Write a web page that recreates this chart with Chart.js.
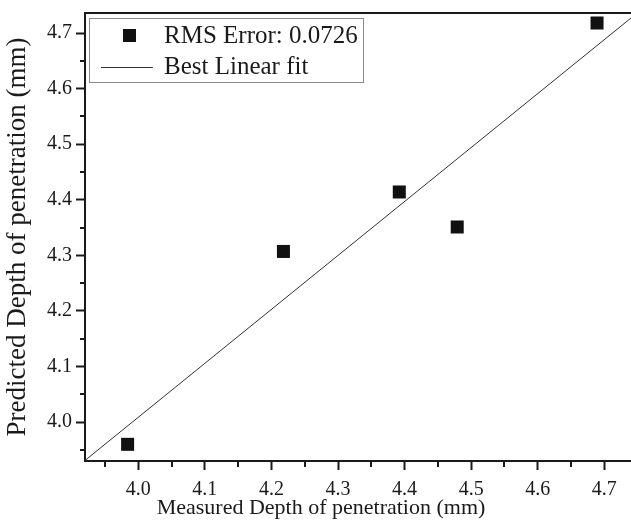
<!DOCTYPE html>
<html>
<head>
<meta charset="utf-8">
<script src="https://cdn.jsdelivr.net/npm/chart.js@4.4.1/dist/chart.umd.min.js"></script>
<style>
  html,body{margin:0;padding:0;background:#fff;}
  #wrap{width:631px;height:522px;}
</style>
</head>
<body>
<div id="wrap"><canvas id="chart" width="631" height="522"></canvas></div>
<script>
// data
const measured=[3.984,4.218,4.392,4.479,4.689];
const predicted=[3.960,4.307,4.414,4.351,4.718];
const fitX=[3.92,4.74];
const fitY=[3.931,4.727];
const xTicks=[4.0,4.1,4.2,4.3,4.4,4.5,4.6,4.7];
const yTicks=[4.0,4.1,4.2,4.3,4.4,4.5,4.6,4.7];
const xRange=[3.92,4.74];
const yRange=[3.93,4.736];
const seriesLabels=['RMS Error: 0.0726','Best Linear fit'];
const xTitle='Measured Depth of penetration (mm)';
const yTitle='Predicted Depth of penetration (mm)';

const FONT="'Liberation Serif','Times New Roman',serif";
const INK='#1a1a1a';
Chart.defaults.font.family=FONT;

// minor ticks, top frame line, x title
const framePlugin={
  id:'frame',
  afterDraw(chart){
    const {ctx,chartArea:a,scales}=chart;
    ctx.save();
    ctx.strokeStyle=INK;
    ctx.lineWidth=2;
    ctx.beginPath();
    ctx.moveTo(a.left-1,a.top);ctx.lineTo(a.right,a.top);
    ctx.stroke();
    // minor ticks
    ctx.beginPath();
    const mids=t=>t.slice(0,-1).map((v,i)=>(v+t[i+1])/2).concat([t[0]-0.05,t[t.length-1]+0.05]);
    mids(xTicks).forEach(v=>{
      if(v<xRange[0]||v>xRange[1])return;
      const x=Math.round(scales.x.getPixelForValue(v));
      ctx.moveTo(x,a.bottom);ctx.lineTo(x,a.bottom+6);
    });
    mids(yTicks).forEach(v=>{
      if(v<yRange[0]||v>yRange[1])return;
      const y=Math.round(scales.y.getPixelForValue(v));
      ctx.moveTo(a.left,y);ctx.lineTo(a.left-5,y);
    });
    ctx.stroke();
    // x axis title (sits left of plot centre in the original)
    ctx.fillStyle=INK;
    ctx.font='22px '+FONT;
    ctx.textAlign='center';
    ctx.textBaseline='middle';
    ctx.fillText(xTitle,321,508);
    ctx.restore();
  }
};

// boxed legend inside the plot
const boxLegend={
  id:'boxLegend',
  afterDraw(chart){
    const {ctx,chartArea:a}=chart;
    const ds=chart.data.datasets;
    const x0=a.left+4,y0=a.top+5,w=274,h=64;
    ctx.save();
    ctx.fillStyle='#fff';
    ctx.fillRect(x0,y0,w,h);
    ctx.strokeStyle='#8a8a8a';
    ctx.lineWidth=1;
    ctx.strokeRect(x0+0.5,y0+0.5,w,h);
    ctx.font='25px '+FONT;
    ctx.textBaseline='middle';
    ctx.fillStyle=ds[0].backgroundColor;
    ctx.fillRect(x0+34,y0+11,13,13);
    ctx.fillStyle=INK;
    ctx.fillText(ds[0].label,x0+75,y0+18);
    ctx.strokeStyle=ds[1].borderColor;
    ctx.lineWidth=1.2;
    ctx.beginPath();
    ctx.moveTo(x0+12,y0+49.5);ctx.lineTo(x0+64,y0+49.5);
    ctx.stroke();
    ctx.fillText(ds[1].label,x0+75,y0+49);
    ctx.restore();
  }
};

new Chart(document.getElementById('chart').getContext('2d'),{
  type:'scatter',
  data:{
    datasets:[
      {
        label:seriesLabels[0],
        data:measured.map((v,i)=>({x:v,y:predicted[i]})),
        pointStyle:'rect',
        pointRadius:9.2,
        backgroundColor:'#111',
        borderColor:'#111',
        borderWidth:0,
        showLine:false
      },
      {
        label:seriesLabels[1],
        data:fitX.map((v,i)=>({x:v,y:fitY[i]})),
        showLine:true,
        pointRadius:0,
        borderColor:'#333',
        borderWidth:1,
        fill:false
      }
    ]
  },
  options:{
    responsive:false,
    animation:false,
    devicePixelRatio:1,
    layout:{autoPadding:false,padding:{top:13,right:0,left:0,bottom:0}},
    plugins:{legend:{display:false},tooltip:{enabled:false}},
    scales:{
      x:{
        type:'linear',
        min:xRange[0],max:xRange[1],
        afterBuildTicks:s=>{s.ticks=xTicks.map(v=>({value:v}));},
        afterFit:s=>{s.height=61;s.paddingLeft=0;s.paddingRight=0;},
        grid:{drawOnChartArea:false,drawTicks:true,tickLength:9,tickWidth:2,tickColor:INK},
        border:{display:true,width:2,color:INK},
        ticks:{font:{family:FONT,size:20},color:INK,padding:8,maxRotation:0,callback:v=>v.toFixed(1)},
        title:{display:false}
      },
      y:{
        type:'linear',
        min:yRange[0],max:yRange[1],
        afterBuildTicks:s=>{s.ticks=yTicks.map(v=>({value:v}));},
        afterFit:s=>{s.width=85;s.paddingTop=0;s.paddingBottom=0;},
        grid:{drawOnChartArea:false,drawTicks:true,tickLength:9,tickWidth:2,tickColor:INK},
        border:{display:true,width:2,color:INK},
        ticks:{font:{family:FONT,size:20},color:INK,padding:4,callback:v=>v.toFixed(1)},
        title:{display:true,text:yTitle,font:{family:FONT,size:27},color:INK,padding:{top:2,bottom:0}}
      }
    }
  },
  plugins:[framePlugin,boxLegend]
});
</script>
</body>
</html>
